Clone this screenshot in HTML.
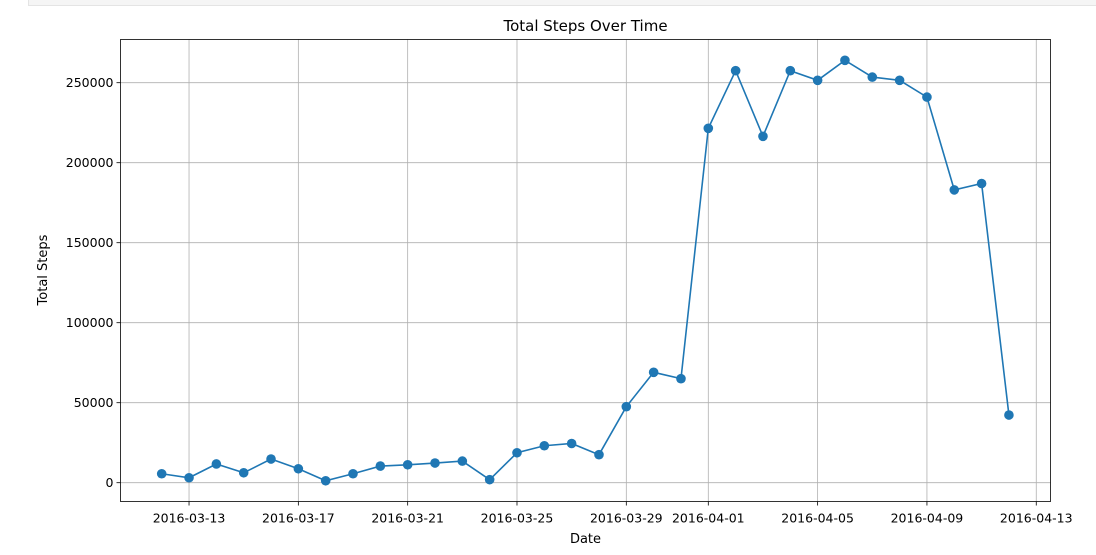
<!DOCTYPE html>
<html><head><meta charset="utf-8"><style>
body{margin:0;background:#fff;width:1096px;height:555px;overflow:hidden;font-family:"Liberation Sans","DejaVu Sans",sans-serif}
</style></head><body>
<div style="position:absolute;left:28px;top:-1px;width:1080px;height:5px;background:#f5f5f5;border:1px solid #e4e4e4"></div>
<svg id="c" width="1096" height="555" style="position:absolute;left:0;top:0" font-family="DejaVu Sans, Liberation Sans, sans-serif"></svg>
<script>
const dates=["2016-03-12","2016-03-13","2016-03-14","2016-03-15","2016-03-16","2016-03-17","2016-03-18","2016-03-19","2016-03-20","2016-03-21","2016-03-22","2016-03-23","2016-03-24","2016-03-25","2016-03-26","2016-03-27","2016-03-28","2016-03-29","2016-03-30","2016-03-31","2016-04-01","2016-04-02","2016-04-03","2016-04-04","2016-04-05","2016-04-06","2016-04-07","2016-04-08","2016-04-09","2016-04-10","2016-04-11","2016-04-12"];
const steps=[5600,3100,11700,6200,14800,8700,1200,5600,10400,11200,12300,13500,1900,18700,23100,24500,17500,47500,69000,65000,221500,257500,216500,257500,251500,264000,253500,251500,241000,183000,187000,42300];
const xTicks=["2016-03-13","2016-03-17","2016-03-21","2016-03-25","2016-03-29","2016-04-01","2016-04-05","2016-04-09","2016-04-13"];
const yTicks=[0,50000,100000,150000,200000,250000];
const L=120.5,R=1050.5,T=39.5,B=501.5;
const day=86400000,d0=Date.parse("2016-03-12");
const x=d=>161.7+(Date.parse(d)-d0)/day*27.33;
const y=v=>482.7-v*400/250000;
const svg=document.getElementById('c');const NS="http://www.w3.org/2000/svg";
function mk(t,a,p){const e=document.createElementNS(NS,t);for(const k in a)e.setAttribute(k,a[k]);(p||svg).appendChild(e);return e;}
xTicks.forEach(t=>{const xx=x(t);
const g=mk('line',{x1:xx,x2:xx,y1:T,y2:B,stroke:'#b0b0b0','stroke-width':0.8});
mk('line',{x1:xx,x2:xx,y1:B,y2:B+4,stroke:'#000','stroke-width':0.8});
const tx=mk('text',{x:xx,y:B+21,'text-anchor':'middle','font-size':12.5,fill:'#000'});tx.textContent=t;});
yTicks.forEach(v=>{const yy=y(v);
const g=mk('line',{x1:L,x2:R,y1:yy,y2:yy,stroke:'#b0b0b0','stroke-width':0.8});
mk('line',{x1:L-4,x2:L,y1:yy,y2:yy,stroke:'#000','stroke-width':0.8});
const tx=mk('text',{x:L-7,y:yy+4.5,'text-anchor':'end','font-size':12.5,fill:'#000'});tx.textContent=v;});
const fr=mk('rect',{x:L,y:T,width:R-L,height:B-T,fill:'none',stroke:'#000','stroke-width':0.8});
const ln=mk('polyline',{points:dates.map((d,i)=>x(d)+','+y(steps[i])).join(' '),fill:'none',stroke:'#1f77b4','stroke-width':1.6});

dates.forEach((d,i)=>{const c=mk('circle',{cx:x(d),cy:y(steps[i]),r:4.8,fill:'#1f77b4'});});
const ti=mk('text',{x:(L+R)/2,y:31,'text-anchor':'middle','font-size':15,fill:'#000'});ti.textContent='Total Steps Over Time';
const xl=mk('text',{x:(L+R)/2,y:543,'text-anchor':'middle','font-size':13,fill:'#000'});xl.textContent='Date';
const yl=mk('text',{x:0,y:0,'text-anchor':'middle','font-size':13,fill:'#000',transform:'translate(47,270) rotate(-90)'});yl.textContent='Total Steps';
</script>
</body></html>
